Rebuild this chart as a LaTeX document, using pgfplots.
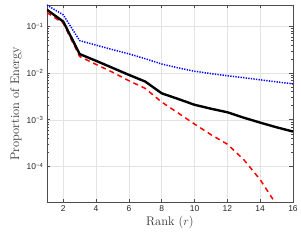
\documentclass[border=0pt]{standalone}
\usepackage{fontspec}
\newfontfamily\ticks{Liberation Sans}
\usepackage{pgfplots}
\pgfplotsset{compat=1.18}
\begin{document}
\begin{tikzpicture}
\begin{axis}[
  scale only axis,
  width=247pt, height=198pt,
  ymode=log,
  xmin=1, xmax=16,
  ymin=1.7e-5, ymax=0.29,
  xtick={2,4,...,16},
  xticklabels={2,4,6,8,10,12,14,16},
  ytick={1e-4,1e-3,1e-2,1e-1},
  yticklabels={10\textsuperscript{−4},10\textsuperscript{−3},10\textsuperscript{−2},10\textsuperscript{−1}},
  tick label style={font=\ticks\fontsize{8.5}{9}\selectfont, text=black!85},
  grid=major,
  major grid style={gray!22, line width=0.5pt},
  axis line style={black!70, line width=0.6pt},
  tick style={black!70, line width=0.6pt},
  tick align=inside,
  major tick length=3.5pt,
  minor tick length=2pt,
  xtick pos=both, ytick pos=both,
  xlabel={Rank ($r$)},
  ylabel={Proportion of Energy},
  label style={font=\fontsize{12.5}{13}\selectfont, text=black!80},
  xlabel style={yshift=3pt},
  ylabel style={yshift=-2pt},
  clip=true,
]
\addplot[blue, dash pattern=on 1.3pt off 1.3pt, line width=1.5pt] coordinates {
(1,0.29)(2,0.178)(3,0.050)(4,0.040)(5,0.032)(6,0.026)(7,0.0204)(8,0.0157)(9,0.013)(10,0.011)(11,0.0098)(12,0.0088)(13,0.008)(14,0.0072)(15,0.0065)(16,0.0059)};
\addplot[red, dash pattern=on 5pt off 4pt, line width=1.5pt] coordinates {
(1,0.2)(2,0.118)(3,0.0228)(4,0.0154)(5,0.0105)(6,0.0069)(7,0.0047)(8,0.0024)(9,0.0014)(10,0.00081)(11,0.00048)(12,0.00030)(13,0.00014)(14,5.2e-5)(15,1.5e-5)(16,4e-6)};
\addplot[black, line width=2.4pt] coordinates {
(1,0.23)(2,0.128)(3,0.0257)(4,0.0184)(5,0.013)(6,0.0092)(7,0.0066)(8,0.0037)(9,0.0028)(10,0.0021)(11,0.00173)(12,0.00145)(13,0.00111)(14,0.00087)(15,0.00069)(16,0.00056)};
\end{axis}
\path[use as bounding box] (-47pt,-39pt) rectangle (254pt,203pt);
\end{tikzpicture}
\end{document}
